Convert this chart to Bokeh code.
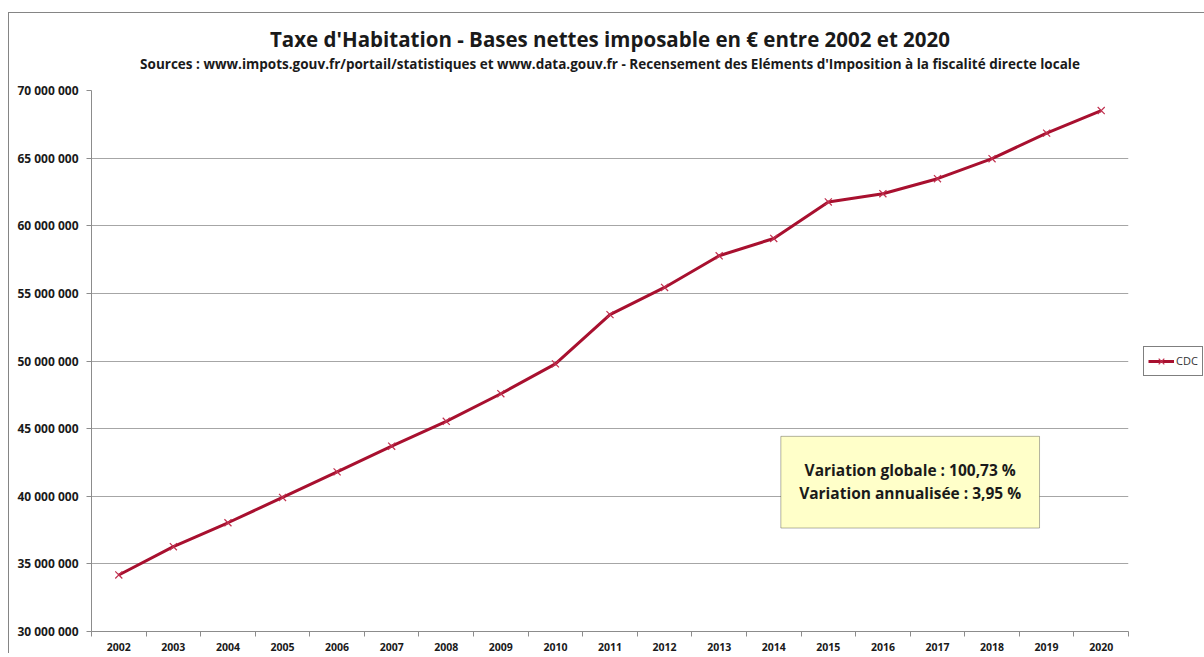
from bokeh.plotting import figure
from bokeh.models import (ColumnDataSource, FixedTicker, CustomJSTickFormatter,
                          BoxAnnotation, Label, Title, Legend, LegendItem)
from bokeh.embed import file_html
from bokeh.resources import INLINE

# ---------------- data ----------------
years = [2002, 2003, 2004, 2005, 2006, 2007, 2008, 2009, 2010, 2011,
         2012, 2013, 2014, 2015, 2016, 2017, 2018, 2019, 2020]
bases = [34180000, 36270000, 38040000, 39910000, 41800000, 43700000,
         45540000, 47580000, 49790000, 53430000, 55440000, 57780000,
         59060000, 61760000, 62370000, 63480000, 64960000, 66850000,
         68520000]
y_ticks = [30000000, 35000000, 40000000, 45000000, 50000000,
           55000000, 60000000, 65000000, 70000000]
series_name = "CDC"
title_text = "Taxe d'Habitation - Bases nettes imposable en \u20ac entre 2002 et 2020"
subtitle_text = ("Sources : www.impots.gouv.fr/portail/statistiques et www.data.gouv.fr - "
                 "Recensement des El\u00e9ments d'Imposition \u00e0 la fiscalit\u00e9 directe locale")
note_lines = ["Variation globale : 100,73 %", "Variation annualis\u00e9e : 3,95 %"]

# ---------------- style ----------------
FONT = "Open Sans"
LINE_COLOR = "#A8102F"
AXIS_COLOR = "#8c8c8c"
GRID_COLOR = "#a6a6a6"
TEXT_COLOR = "#1a1a1a"

src = ColumnDataSource(data=dict(year=years, base=bases))

p = figure(frame_width=1037, frame_height=541, output_backend="svg",
           toolbar_location=None, title=None,
           x_range=(years[0] - 0.5, years[-1] + 0.5),
           y_range=(y_ticks[0], y_ticks[-1]),
           min_border_left=82, min_border_top=77, min_border_right=0,
           min_border_bottom=0)
# chart-area border (left / top edges) like the spreadsheet chart frame
p.styles = {"margin-left": "8px", "margin-top": "12px",
            "border-left": "1px solid #858585", "border-top": "1px solid #858585"}

p.outline_line_color = None
p.background_fill_color = "white"
p.border_fill_color = "white"

# titles (first added sits closest to the plot); a blank spacer keeps the gap
p.add_layout(Title(text=" ", text_font_size="1px", standoff=15), "above")
p.add_layout(Title(text=subtitle_text, align="center", text_font=FONT,
                   text_font_size="13.5px", text_font_style="bold",
                   text_color=TEXT_COLOR, standoff=0), "above")
p.add_layout(Title(text=title_text, align="center", text_font=FONT,
                   text_font_size="20.5px", text_font_style="bold",
                   text_color=TEXT_COLOR, standoff=0), "above")

# grid
p.xgrid.visible = False
p.ygrid.ticker = FixedTicker(ticks=y_ticks)
p.ygrid.grid_line_color = GRID_COLOR
p.ygrid.grid_line_width = 1

# y axis
p.yaxis.ticker = FixedTicker(ticks=y_ticks, minor_ticks=[])
p.yaxis.formatter = CustomJSTickFormatter(
    code=r"return Math.round(tick).toString().replace(/\B(?=(\d{3})+(?!\d))/g, ' ');")
p.yaxis.axis_line_color = AXIS_COLOR
p.yaxis.major_tick_line_color = AXIS_COLOR
p.yaxis.major_tick_out = 5
p.yaxis.major_tick_in = 0
p.yaxis.minor_tick_line_color = None
p.yaxis.major_label_standoff = 8
p.yaxis.major_label_text_font = FONT
p.yaxis.major_label_text_font_size = "12px"
p.yaxis.major_label_text_font_style = "bold"
p.yaxis.major_label_text_color = TEXT_COLOR

# x axis: labels at category centres, tick marks between categories
p.xaxis.ticker = FixedTicker(ticks=years,
                             minor_ticks=[y - 0.5 for y in years] + [years[-1] + 0.5])
p.xaxis.axis_line_color = AXIS_COLOR
p.xaxis.major_tick_line_color = None
p.xaxis.major_tick_out = 0
p.xaxis.major_tick_in = 0
p.xaxis.minor_tick_line_color = AXIS_COLOR
p.xaxis.minor_tick_out = 5
p.xaxis.minor_tick_in = 0
p.xaxis.major_label_standoff = 6
p.xaxis.major_label_text_font = FONT
p.xaxis.major_label_text_font_size = "10.5px"
p.xaxis.major_label_text_font_style = "bold"
p.xaxis.major_label_text_color = TEXT_COLOR

# series
r_line = p.line(x="year", y="base", source=src, line_color=LINE_COLOR, line_width=3)
r_pts = p.scatter(x="year", y="base", source=src, marker="x", size=10,
                  line_color="#C0304F", line_width=1.2)

legend = Legend(items=[LegendItem(label=series_name, renderers=[r_line, r_pts])],
                location="center_left", orientation="vertical")
legend.border_line_color = "black"
legend.border_line_width = 1
legend.background_fill_color = "white"
legend.padding = 4
legend.margin = 15
legend.spacing = 0
legend.glyph_width = 26
legend.glyph_height = 20
legend.label_standoff = 2
legend.label_text_font = FONT
legend.label_text_font_size = "11px"
legend.label_text_color = "#333333"
p.add_layout(legend, "right")

# annotation box
note_box = BoxAnnotation(left=2014.13, right=2018.87, bottom=37650000, top=44430000,
                         fill_color="#FFFFC9", fill_alpha=1.0,
                         line_color="black", line_width=1)
p.add_layout(note_box)
for txt, yv in zip(note_lines, [41920000, 40230000]):
    p.add_layout(Label(x=2016.5, y=yv, text=txt, text_align="center",
                       text_baseline="middle", text_font=FONT,
                       text_font_size="15.5px", text_font_style="bold",
                       text_color=TEXT_COLOR))

open("out.html", "w").write(file_html(p, INLINE))
